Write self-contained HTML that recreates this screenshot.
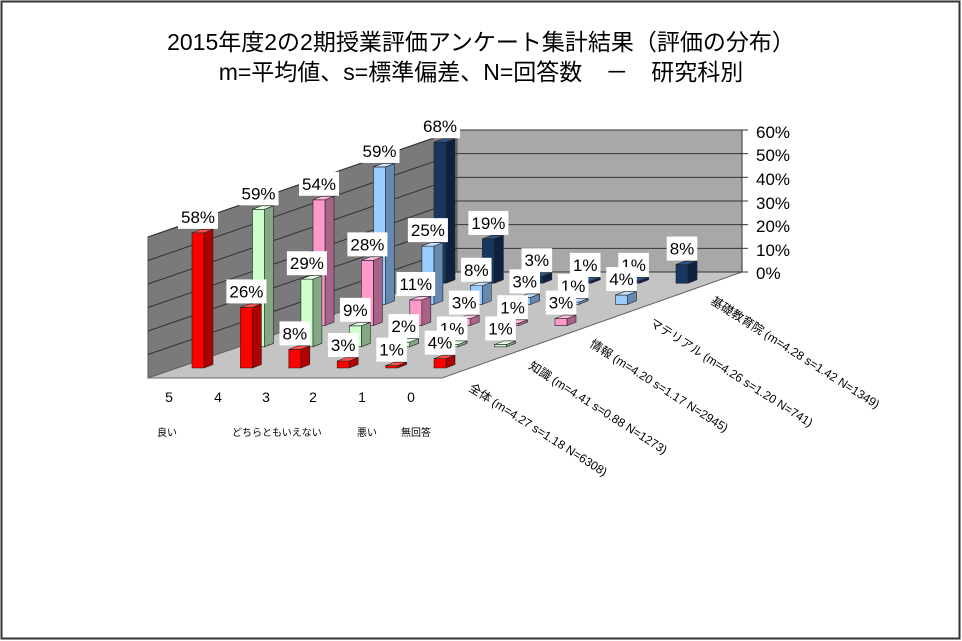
<!DOCTYPE html>
<html><head><meta charset="utf-8"><style>
html,body{margin:0;padding:0;background:#fff}
svg{display:block}
text{font-family:"Liberation Sans","Noto Sans CJK JP",sans-serif}
</style></head><body>
<svg id="c" width="962" height="641" viewBox="0 0 962 641" xmlns="http://www.w3.org/2000/svg">
<rect x="1.5" y="1.5" width="958" height="637" fill="#fff" stroke="#333" stroke-width="2"/>
<text x="481" y="50" font-size="23" text-anchor="middle" fill="#000">2015年度2の2期授業評価アンケート集計結果（評価の分布）</text>
<text x="481" y="80" font-size="23" text-anchor="middle" fill="#000">m=平均値、s=標準偏差、N=回答数　－　研究科別</text>
<polygon points="148,378 148,237 457,130 457,272" fill="#7a7a7a" stroke="#555"/>
<polygon points="457,130 742,130 742,272 457,272" fill="#a8a8a8" stroke="#555"/>
<polygon points="148,378 442,378 742,272 457,272" fill="#c4c4c4" stroke="#666"/>
<g id="grid" stroke="#333" stroke-width="1"></g>
<g font-size="17" fill="#000">
<text x="756" y="138">60%</text><text x="756" y="161">50%</text><text x="756" y="185">40%</text>
<text x="756" y="209">30%</text><text x="756" y="232">20%</text><text x="756" y="256">10%</text>
<text x="756" y="279">0%</text>
</g>
<g id="s4"><text class="l">68%</text><text class="l">19%</text><text class="l">3%</text><text class="l">1%</text><text class="l">1%</text><text class="l">8%</text></g>
<g id="s3"><text class="l">59%</text><text class="l">25%</text><text class="l">8%</text><text class="l">3%</text><text class="l">1%</text><text class="l">4%</text></g>
<g id="s2"><text class="l">54%</text><text class="l">28%</text><text class="l">11%</text><text class="l">3%</text><text class="l">1%</text><text class="l">3%</text></g>
<g id="s1"><text class="l">59%</text><text class="l">29%</text><text class="l">9%</text><text class="l">2%</text><text class="l">1%</text><text class="l">1%</text></g>
<g id="s0"><text class="l">58%</text><text class="l">26%</text><text class="l">8%</text><text class="l">3%</text><text class="l">1%</text><text class="l">4%</text></g>
<g font-size="14" text-anchor="middle" fill="#000">
<text x="169" y="402">5</text><text x="218" y="402">4</text><text x="266" y="402">3</text>
<text x="313" y="402">2</text><text x="362" y="402">1</text><text x="411" y="402">0</text>
</g>
<g font-size="10" fill="#000">
<text x="157" y="436">良い</text><text x="232" y="436">どちらともいえない</text>
<text x="357" y="436">悪い</text><text x="401" y="436">無回答</text>
</g>
<g font-size="12" fill="#000">
<text transform="translate(468,390) rotate(32.5)">全体 (m=4.27 s=1.18 N=6308)</text>
<text transform="translate(528,368) rotate(32.5)">知識 (m=4.41 s=0.88 N=1273)</text>
<text transform="translate(589,346) rotate(32.5)">情報 (m=4.20 s=1.17 N=2945)</text>
<text transform="translate(649,325) rotate(32.5)">マテリアル (m=4.26 s=1.20 N=741)</text>
<text transform="translate(710,303) rotate(32.5)">基礎教育院 (m=4.28 s=1.42 N=1349)</text>
</g>
</svg>
<script>
(function(){
var NS="http://www.w3.org/2000/svg";
function el(t,a,p,before){var e=document.createElementNS(NS,t);for(var k in a)e.setAttribute(k,a[k]);if(before)p.insertBefore(e,before);else p.appendChild(e);return e;}
var g=document.getElementById("grid");
for(var k=0;k<=6;k++){
 var yl=378-k*23.5, yr=272-k*23.67;
 if(k>0)el("line",{x1:148,y1:yl,x2:457,y2:yr},g);
 el("line",{x1:457,y1:yr,x2:742,y2:yr},g);
 el("line",{x1:742,y1:yr,x2:748,y2:yr},g);
}
el("line",{x1:742,y1:130,x2:742,y2:272},g);
var data=[[58,26,8,3,1,4],[59,29,9,2,1,1],[54,28,11,3,1,3],[59,25,8,3,1,4],[68,19,3,1,1,8]];
var cols=[["#ff0000","#b00000","#ff5050"],["#ccffcc","#84a884","#e4ffe4"],["#ff99cc","#a86488","#ffbddd"],["#99ccff","#6689b0","#c4e2ff"],["#17375e","#0c2240","#2d5585"]];
for(var s=4;s>=0;s--){
 var grp=document.getElementById("s"+s);
 var texts=grp.querySelectorAll("text");
 var first=texts[0];
 var tops=[];
 for(var c=0;c<6;c++){
  var v=Math.min(data[s][c],60.5);
  var x0=192+60.5*s+48.4*c, base=368-21.2*s, h=Math.max(v*2.33,1.5), top=base-h;
  var w=12,dx=9,dy=-3.5,cl=cols[s];
  var st={stroke:"#222","stroke-width":"0.6","stroke-linejoin":"round"};
  function P(pts,f){var a={points:pts,fill:f};for(var q in st)a[q]=st[q];el("polygon",a,grp,first);}
  P((x0+w)+","+base+" "+(x0+w+dx)+","+(base+dy)+" "+(x0+w+dx)+","+(top+dy)+" "+(x0+w)+","+top,cl[1]);
  P(x0+","+base+" "+(x0+w)+","+base+" "+(x0+w)+","+top+" "+x0+","+top,cl[0]);
  P(x0+","+top+" "+(x0+w)+","+top+" "+(x0+w+dx)+","+(top+dy)+" "+(x0+dx)+","+(top+dy),cl[2]);
  tops.push([x0,top]);
 }
 for(var c=0;c<6;c++){
  var t=texts[c];var x0=tops[c][0],top=tops[c][1];
  t.setAttribute("font-size","17");t.setAttribute("text-anchor","middle");
  t.setAttribute("x",x0+6);t.setAttribute("y",top-10);
  var wd=t.getComputedTextLength()+6;
  el("rect",{x:x0+6-wd/2,y:top-28,width:wd,height:24,fill:"#fff"},grp,t);
 }
}
})();
</script>
</body></html>
